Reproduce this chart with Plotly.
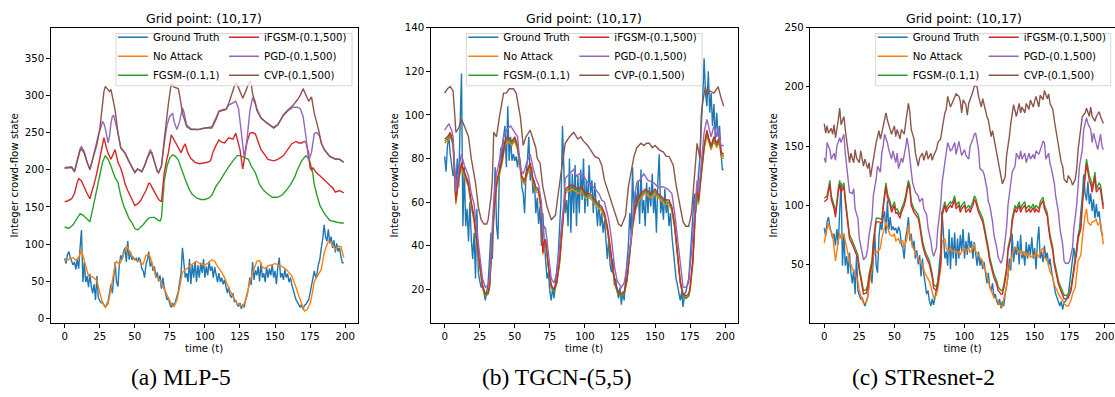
import plotly.graph_objects as go

# ---------------- data ----------------
T_ALL = list(range(200))
GROUND_TRUTH = [81, 74, 86, 90, 82, 76, 72, 76, 66, 80, 67, 95, 119, 49, 76, 49, 57, 42, 60, 43,
                34, 46, 25, 57, 28, 24, 21, 22, 18, 15, 19, 23, 34, 46, 34, 58, 76, 49, 43, 73,
                85, 79, 90, 95, 76, 104, 79, 90, 79, 82, 79, 81, 76, 82, 78, 67, 64, 55, 73, 79,
                90, 70, 76, 64, 70, 55, 62, 50, 58, 40, 55, 42, 35, 25, 28, 19, 15, 21, 16, 22,
                28, 36, 49, 61, 95, 76, 55, 61, 49, 80, 46, 73, 55, 77, 49, 72, 55, 75, 61, 80,
                55, 70, 58, 77, 64, 70, 55, 69, 58, 49, 61, 49, 55, 46, 52, 42, 34, 43, 31, 28,
                34, 22, 25, 19, 16, 21, 13, 19, 15, 25, 31, 40, 55, 45, 76, 52, 65, 58, 70, 50,
                75, 55, 61, 49, 69, 55, 67, 58, 73, 55, 64, 46, 69, 82, 55, 61, 52, 66, 55, 60,
                49, 55, 45, 37, 31, 25, 22, 18, 15, 19, 12, 18, 19, 22, 25, 34, 46, 55, 64, 55,
                61, 73, 80, 95, 107, 126, 110, 104, 120, 101, 110, 95, 105, 89, 101, 90, 95, 83, 75, 75]

# Panel (a) MLP-5
P1_NO_ATTACK = [(0,77),(3,79),(6,82),(8,78),(10,82),(12,92),(14,78),(16,62),(17,57),(20,56),(23,51),(25,35),(27,21),(29,15),(31,20),(32,29),(34,52),(36,72),(37,77),(39,73),(41,80),(42,86),(44,97),(45,96),(47,86),(49,82),(51,78),(53,77),(56,73),(58,85),(60,86),(61,83),(63,68),(65,57),(68,51),(70,43),(72,35),(75,24),(77,16),(78,17),(80,24),(82,42),(83,55),(84,62),(87,67),(90,72),(94,77),(97,73),(100,72),(102,74),(105,79),(107,77),(109,70),(111,65),(114,55),(116,45),(118,37),(121,26),(123,20),(125,18),(127,16),(128,20),(130,30),(132,50),(134,62),(137,77),(139,78),(141,69),(143,67),(145,71),(148,72),(150,74),(152,72),(155,70),(158,66),(160,62),(162,57),(164,47),(166,35),(168,24),(170,14),(171,10),(173,12),(175,20),(176,28),(178,50),(181,60),(183,66),(185,88),(187,98),(188,104),(190,102),(193,93),(195,97),(197,97),(199,82)]
P1_FGSM = [(0,123),(3,121),(6,126),(9,136),(11,141),(13,139),(15,135),(18,130),(20,147),(22,165),(24,185),(25,196),(27,210),(29,219),(31,214),(33,205),(35,193),(36,189),(38,183),(40,165),(42,152),(44,142),(46,134),(48,129),(50,121),(52,119),(54,122),(56,126),(58,131),(60,135),(62,136),(64,136),(66,133),(68,131),(69,135),(70,155),(71,185),(73,205),(75,216),(77,220),(79,218),(81,213),(83,202),(85,192),(87,182),(89,173),(91,167),(94,162),(97,160),(100,160),(103,162),(105,166),(108,178),(111,186),(114,196),(117,204),(120,212),(123,219),(125,219),(128,216),(131,214),(133,205),(136,196),(139,180),(142,172),(145,167),(148,163),(152,163),(155,166),(158,172),(161,180),(164,190),(166,200),(169,212),(172,219),(174,214),(175,210),(177,194),(178,180),(180,165),(182,152),(184,145),(186,139),(189,132),(192,130),(195,129),(199,128)]
P1_IFGSM = [(0,157),(2,158),(5,161),(7,168),(9,183),(10,188),(12,185),(14,176),(16,168),(18,161),(20,174),(22,188),(24,205),(26,225),(28,243),(30,228),(31,222),(33,214),(35,222),(36,227),(38,210),(40,202),(42,190),(43,181),(45,172),(47,164),(50,152),(52,154),(54,158),(56,165),(58,172),(60,182),(61,181),(63,174),(65,166),(67,160),(69,157),(71,196),(73,215),(74,223),(76,247),(78,240),(80,232),(82,226),(83,223),(85,232),(86,234),(88,222),(90,215),(93,210),(96,208),(99,209),(102,210),(104,212),(106,225),(108,233),(110,240),(112,237),(114,236),(117,243),(120,241),(122,249),(124,236),(125,227),(127,201),(128,212),(130,237),(132,249),(134,250),(136,248),(138,236),(140,227),(142,222),(145,214),(149,212),(152,214),(156,219),(159,227),(162,235),(165,238),(167,236),(169,236),(171,238),(172,237),(174,222),(175,203),(176,199),(177,203),(179,197),(182,192),(184,189),(186,185),(189,179),(191,176),(193,170),(196,172),(199,169)]
P1_PGD = [(0,203),(3,203),(5,204),(7,198),(9,215),(11,228),(12,231),(14,224),(16,210),(18,201),(20,215),(22,232),(24,246),(26,258),(27,265),(28,262),(29,255),(31,236),(32,245),(33,262),(34,272),(35,273),(36,265),(37,258),(38,250),(40,229),(43,222),(45,214),(48,203),(50,197),(52,201),(55,198),(57,206),(59,218),(61,227),(62,224),(64,210),(66,198),(67,196),(69,205),(71,235),(73,260),(75,272),(77,276),(78,265),(80,254),(82,265),(84,283),(85,278),(87,260),(90,255),(95,254),(100,256),(105,258),(108,270),(110,279),(113,281),(115,281),(117,287),(119,289),(121,290),(122,292),(124,282),(126,250),(128,217),(130,240),(132,278),(134,297),(136,286),(138,278),(140,270),(144,263),(149,257),(152,261),(156,273),(159,279),(163,284),(166,284),(168,282),(170,272),(172,245),(174,212),(176,223),(178,249),(180,250),(182,244),(183,236),(185,228),(189,218),(193,215),(196,214),(199,210)]
P1_CVP = [(0,202),(3,202),(5,203),(7,197),(9,212),(11,226),(12,228),(14,222),(16,210),(18,200),(20,214),(23,234),(25,254),(27,290),(28,305),(29,312),(31,307),(32,305),(33,308),(35,292),(36,280),(38,249),(40,230),(43,223),(45,214),(48,203),(50,196),(52,201),(55,197),(57,205),(59,216),(61,223),(62,223),(64,210),(66,198),(67,196),(69,205),(71,240),(73,275),(74,289),(76,316),(78,311),(81,309),(82,300),(84,276),(87,258),(90,254),(95,254),(100,256),(105,256),(108,268),(110,278),(113,280),(115,281),(117,289),(119,302),(121,312),(122,318),(124,310),(125,305),(127,296),(129,305),(130,311),(132,320),(133,316),(134,302),(136,290),(137,280),(140,269),(144,263),(149,256),(152,260),(156,274),(159,280),(163,287),(166,294),(168,300),(170,309),(172,300),(174,292),(176,298),(178,276),(181,254),(183,236),(185,227),(189,218),(193,214),(196,214),(199,210)]

# Panel (b) TGCN-(5,5)
P2_NO_ATTACK = [(0,87),(2,88),(4,90),(6,86),(7,73),(8,59),(10,70),(12,76),(14,72),(17,67),(19,58),(21,51),(23,40),(25,30),(27,21),(29,17),(31,18),(32,21),(33,31),(35,53),(37,67),(38,70),(41,78),(43,86),(45,88),(48,86),(50,88),(52,84),(54,74),(55,70),(57,68),(59,73),(61,76),(63,69),(65,65),(67,64),(69,55),(70,36),(71,40),(72,41),(74,30),(76,21),(78,19),(80,23),(82,32),(84,48),(85,56),(86,64),(88,65),(91,66),(93,65),(95,64),(98,65),(100,62),(103,62),(105,61),(107,59),(110,57),(112,56),(114,53),(116,47),(118,38),(120,28),(122,21),(124,18),(126,17),(128,18),(130,24),(132,35),(134,48),(136,56),(138,60),(140,62),(143,64),(145,63),(147,62),(150,64),(152,62),(154,61),(157,59),(160,59),(162,56),(164,48),(165,42),(166,35),(168,23),(170,17),(172,16),(174,17),(175,20),(177,32),(178,47),(179,58),(180,65),(181,59),(183,72),(185,84),(187,91),(188,88),(190,84),(192,88),(194,85),(196,88),(197,81),(199,80)]
P2_FGSM = [(0,88),(2,89),(4,91),(6,87),(7,74),(8,60),(10,71),(12,77),(14,73),(17,68),(19,59),(21,52),(23,41),(25,30),(27,21),(29,17),(31,18),(32,21),(33,32),(35,54),(37,68),(38,71),(41,79),(43,87),(45,89),(48,87),(50,89),(52,85),(54,75),(55,71),(57,69),(59,74),(61,77),(63,70),(65,66),(67,65),(69,56),(70,37),(71,41),(72,42),(74,30),(76,21),(78,19),(80,23),(82,33),(84,49),(85,57),(86,65),(88,66),(91,67),(93,66),(95,65),(98,66),(100,63),(103,63),(105,62),(107,60),(110,58),(112,57),(114,54),(116,48),(118,39),(120,28),(122,21),(124,18),(126,17),(128,18),(130,24),(132,36),(134,49),(136,57),(138,61),(140,63),(143,65),(145,64),(147,63),(150,65),(152,63),(154,62),(157,60),(160,60),(162,57),(164,49),(165,43),(166,36),(168,23),(170,17),(172,16),(174,17),(175,20),(177,33),(178,48),(179,59),(180,66),(181,60),(183,73),(185,85),(187,92),(188,89),(190,85),(192,89),(194,86),(196,89),(197,82),(199,81)]
P2_IFGSM = [(0,89),(2,90),(4,92),(6,88),(7,75),(8,61),(10,72),(12,78),(14,74),(17,69),(19,60),(21,53),(23,42),(25,31),(27,22),(29,18),(31,19),(32,22),(33,33),(35,55),(37,69),(38,72),(41,80),(43,88),(45,90),(48,88),(50,90),(52,86),(54,76),(55,72),(57,70),(59,75),(61,78),(63,71),(65,67),(67,66),(69,57),(70,37),(71,42),(72,43),(74,31),(76,22),(78,20),(80,24),(82,34),(84,50),(85,58),(86,66),(88,67),(91,68),(93,67),(95,66),(98,67),(100,64),(103,64),(105,63),(107,61),(110,59),(112,58),(114,55),(116,49),(118,40),(120,29),(122,22),(124,19),(126,18),(128,19),(130,25),(132,37),(134,50),(136,58),(138,62),(140,64),(143,66),(145,65),(147,64),(150,66),(152,64),(154,63),(157,61),(160,61),(162,58),(164,50),(165,44),(166,37),(168,24),(170,18),(172,17),(174,18),(175,21),(177,34),(178,49),(179,60),(180,67),(181,61),(183,74),(185,86),(187,93),(188,90),(190,86),(192,90),(194,87),(196,90),(197,83),(199,82)]
P2_PGD = [(0,93),(2,95),(3,96),(5,93),(6,90),(7,78),(8,65),(10,75),(12,82),(14,77),(17,72),(19,64),(21,59),(23,47),(25,35),(27,25),(29,21),(31,22),(32,25),(33,36),(35,61),(37,73),(39,79),(42,90),(44,93),(47,95),(49,93),(52,90),(54,75),(56,73),(59,79),(61,82),(63,76),(65,71),(67,68),(69,60),(70,46),(71,49),(72,48),(74,36),(76,25),(78,23),(80,28),(81,34),(83,48),(85,60),(86,71),(89,73),(92,75),(94,72),(96,73),(99,72),(102,69),(106,67),(110,64),(112,61),(114,60),(117,52),(119,43),(121,31),(123,24),(126,21),(128,23),(130,30),(132,40),(133,43),(135,61),(137,69),(139,70),(142,73),(145,70),(149,69),(152,67),(156,67),(159,66),(162,64),(164,55),(166,43),(168,30),(170,21),(172,21),(174,23),(176,37),(178,55),(180,70),(181,64),(183,80),(185,92),(187,98),(188,95),(190,90),(192,95),(194,90),(195,94),(197,86),(199,86)]
P2_CVP = [(0,110),(2,112),(4,113),(6,111),(7,102),(8,92),(10,94),(12,98),(14,95),(17,90),(19,80),(21,72),(22,69),(24,58),(26,52),(28,50),(30,50),(31,52),(33,62),(34,70),(35,92),(37,90),(39,99),(42,110),(44,110),(46,112),(49,112),(51,110),(53,103),(54,99),(56,86),(58,90),(61,93),(63,89),(65,85),(66,80),(68,78),(70,67),(73,58),(76,52),(79,54),(81,64),(83,75),(84,78),(86,87),(89,90),(92,92),(95,89),(97,90),(99,88),(102,86),(105,83),(107,81),(110,80),(112,77),(114,70),(117,64),(119,60),(122,54),(124,50),(126,49),(129,54),(131,67),(133,75),(135,81),(137,85),(140,87),(142,86),(144,87),(146,87),(148,85),(150,86),(153,84),(156,83),(158,81),(160,81),(163,77),(165,68),(168,58),(170,51),(172,49),(174,49),(176,55),(178,70),(179,77),(180,87),(182,80),(183,100),(184,106),(186,113),(187,109),(189,111),(192,110),(195,113),(197,108),(199,104)]

# Panel (c) STResnet-2
P3_NO_ATTACK = [(0,68),(1,75),(3,85),(4,80),(6,75),(7,64),(8,53),(10,70),(11,76),(12,72),(14,76),(15,70),(17,58),(18,53),(20,47),(21,45),(22,42),(24,36),(25,28),(27,20),(28,17),(30,18),(31,22),(32,33),(34,47),(35,58),(37,61),(38,60),(40,64),(41,72),(43,80),(44,86),(46,78),(47,75),(49,74),(50,76),(51,70),(53,72),(54,68),(56,70),(57,64),(59,72),(60,83),(61,75),(63,65),(65,60),(67,55),(68,52),(70,50),(72,42),(75,36),(77,28),(78,22),(80,24),(81,30),(83,47),(84,70),(86,72),(87,64),(88,61),(90,64),(91,61),(93,62),(94,60),(96,61),(97,58),(98,61),(100,64),(101,61),(103,64),(104,60),(106,64),(107,67),(108,61),(110,58),(111,56),(113,53),(114,47),(116,42),(117,36),(118,31),(120,25),(121,22),(123,21),(124,18),(126,15),(127,14),(128,21),(130,31),(131,42),(133,53),(134,58),(136,64),(137,64),(139,60),(140,62),(141,58),(143,61),(144,57),(146,60),(147,56),(149,58),(150,56),(151,60),(153,56),(154,61),(156,64),(157,56),(159,53),(160,47),(161,44),(163,39),(164,33),(166,28),(167,25),(169,21),(170,20),(171,17),(173,15),(174,15),(176,20),(177,25),(179,31),(180,42),(181,53),(183,58),(184,72),(186,92),(187,97),(188,86),(190,83),(191,86),(192,86),(194,88),(195,83),(197,86),(198,75),(199,67)]
P3_FGSM = [(0,106),(2,108),(4,121),(5,108),(7,100),(8,93),(10,114),(11,121),(12,114),(14,119),(15,106),(17,83),(18,75),(20,70),(21,67),(22,64),(24,58),(25,47),(27,33),(28,28),(30,29),(31,33),(32,42),(34,53),(35,70),(37,89),(39,89),(41,88),(42,100),(44,119),(45,110),(47,103),(48,97),(50,103),(51,96),(52,97),(54,92),(55,97),(57,103),(58,108),(60,121),(61,117),(62,103),(64,97),(67,92),(68,86),(70,70),(72,61),(75,53),(77,42),(78,33),(80,31),(81,36),(83,53),(84,94),(86,103),(87,97),(88,100),(90,103),(91,101),(93,108),(94,100),(96,103),(97,97),(98,100),(100,103),(101,97),(103,100),(104,97),(106,103),(107,108),(108,106),(110,97),(111,94),(113,89),(114,83),(116,72),(117,64),(118,56),(120,47),(121,42),(123,36),(124,31),(126,28),(127,28),(128,33),(130,47),(131,64),(133,75),(134,89),(136,100),(137,97),(139,103),(140,97),(141,100),(143,103),(144,97),(146,100),(147,97),(149,101),(150,97),(151,100),(153,97),(154,103),(156,107),(157,100),(159,94),(160,83),(161,75),(163,64),(164,53),(166,42),(167,36),(169,30),(170,26),(171,24),(173,24),(174,25),(176,31),(177,39),(179,53),(180,64),(181,75),(183,83),(184,103),(186,128),(187,139),(189,125),(190,122),(191,114),(193,128),(194,114),(196,119),(197,117),(199,100)]
P3_IFGSM = [(0,103),(2,105),(4,118),(5,105),(7,97),(8,90),(10,111),(11,118),(12,111),(14,116),(15,103),(17,80),(18,72),(20,67),(21,64),(22,61),(24,55),(25,45),(27,30),(28,25),(30,26),(31,30),(32,39),(34,50),(35,67),(37,86),(39,86),(41,85),(42,97),(44,116),(45,107),(47,100),(48,94),(50,100),(51,93),(52,94),(54,89),(55,94),(57,100),(58,105),(60,118),(61,114),(62,100),(64,94),(67,89),(68,83),(70,67),(72,58),(75,50),(77,39),(78,30),(80,28),(81,33),(83,50),(84,91),(86,100),(87,94),(88,97),(90,100),(91,98),(93,105),(94,97),(96,100),(97,94),(98,97),(100,100),(101,94),(103,97),(104,94),(106,100),(107,105),(108,103),(110,94),(111,91),(113,86),(114,80),(116,69),(117,61),(118,53),(120,44),(121,39),(123,33),(124,28),(126,25),(127,25),(128,30),(130,44),(131,61),(133,72),(134,86),(136,97),(137,94),(139,100),(140,94),(141,97),(143,100),(144,94),(146,97),(147,94),(149,98),(150,94),(151,97),(153,94),(154,100),(156,104),(157,97),(159,91),(160,80),(161,72),(163,61),(164,50),(166,39),(167,33),(169,27),(170,23),(171,21),(173,21),(174,22),(176,28),(177,36),(179,50),(180,61),(181,72),(183,80),(184,100),(186,125),(187,135),(189,121),(190,118),(191,111),(193,124),(194,111),(196,115),(197,113),(199,97)]
P3_PGD = [(0,140),(1,136),(2,153),(4,147),(5,139),(7,144),(8,138),(9,150),(11,157),(12,153),(14,160),(15,144),(17,122),(18,111),(20,110),(21,114),(22,97),(24,89),(25,72),(27,58),(28,54),(30,57),(31,64),(32,75),(34,89),(35,108),(37,122),(38,133),(40,128),(41,144),(42,150),(43,160),(45,153),(46,147),(48,139),(49,146),(51,136),(52,144),(53,131),(55,140),(56,136),(58,149),(59,157),(60,150),(62,131),(63,119),(65,111),(67,108),(68,103),(70,106),(71,97),(73,92),(74,81),(76,70),(77,61),(78,57),(80,64),(81,81),(83,100),(84,119),(86,136),(87,147),(88,153),(90,146),(91,147),(93,153),(94,143),(96,154),(97,149),(98,142),(100,147),(101,142),(103,139),(104,150),(106,156),(107,160),(108,161),(110,147),(111,131),(113,129),(114,126),(116,114),(117,103),(118,100),(120,86),(121,75),(123,64),(124,56),(126,51),(127,54),(128,61),(130,81),(131,100),(133,117),(134,128),(136,133),(137,144),(139,139),(140,146),(141,139),(143,144),(144,136),(146,144),(147,139),(149,143),(150,139),(151,146),(153,143),(154,147),(156,154),(157,153),(158,139),(160,144),(161,135),(162,131),(164,119),(165,108),(167,94),(168,81),(170,67),(171,53),(172,51),(174,51),(175,53),(177,64),(178,81),(180,100),(181,114),(182,133),(184,147),(185,164),(187,174),(188,169),(190,164),(191,153),(192,161),(194,153),(195,147),(197,160),(198,150),(199,147)]
P3_CVP = [(0,169),(1,161),(2,167),(3,161),(5,165),(6,160),(7,168),(8,157),(10,172),(11,182),(12,168),(14,175),(15,164),(17,142),(18,136),(19,144),(21,136),(22,147),(23,140),(25,136),(26,146),(28,133),(29,139),(31,131),(32,136),(33,124),(34,131),(36,144),(37,153),(39,163),(40,156),(41,161),(43,174),(44,178),(45,172),(47,164),(48,160),(50,167),(51,158),(52,164),(54,156),(55,164),(57,160),(58,169),(60,186),(61,179),(62,164),(64,156),(65,144),(67,133),(68,140),(70,144),(71,138),(73,146),(74,139),(76,144),(77,138),(78,142),(80,147),(81,153),(83,156),(84,164),(86,178),(87,181),(88,192),(90,183),(91,186),(93,192),(94,194),(96,192),(97,188),(98,178),(99,189),(101,185),(102,176),(103,186),(105,192),(106,196),(107,201),(109,200),(110,192),(112,183),(113,190),(115,178),(116,175),(117,172),(119,158),(120,163),(122,150),(123,144),(124,136),(126,122),(127,118),(129,124),(130,142),(132,158),(133,169),(135,185),(136,180),(137,175),(139,186),(140,178),(141,183),(143,178),(144,186),(146,181),(147,189),(149,183),(150,188),(151,192),(153,183),(154,193),(156,189),(157,197),(159,190),(160,194),(161,186),(163,181),(164,172),(166,158),(167,153),(169,136),(170,133),(171,122),(173,119),(174,125),(176,121),(177,117),(179,122),(180,131),(181,147),(183,164),(184,175),(186,178),(187,182),(189,175),(190,183),(191,175),(193,171),(194,175),(196,179),(197,175),(199,169)]

SERIES_NAMES = ["Ground Truth", "No Attack", "FGSM-(0.1,1)", "iFGSM-(0.1,500)", "PGD-(0.1,500)", "CVP-(0.1,500)"]
COLORS = ["#1f77b4", "#ff7f0e", "#2ca02c", "#d62728", "#9467bd", "#8c564b"]
PANEL_TITLES = ["Grid point: (10,17)"] * 3
CAPTIONS = ["(a) MLP-5", "(b) TGCN-(5,5)", "(c) STResnet-2"]
X_TICKS = [0, 25, 50, 75, 100, 125, 150, 175, 200]
Y_TICKS = [[0, 50, 100, 150, 200, 250, 300, 350],
           [20, 40, 60, 80, 100, 120, 140],
           [50, 100, 150, 200, 250]]
Y_RANGES = [[-6.2, 391], [4.6, 140], [0.5, 250]]

PANELS = [
    [P1_NO_ATTACK, P1_FGSM, P1_IFGSM, P1_PGD, P1_CVP],
    [P2_NO_ATTACK, P2_FGSM, P2_IFGSM, P2_PGD, P2_CVP],
    [P3_NO_ATTACK, P3_FGSM, P3_IFGSM, P3_PGD, P3_CVP],
]

# ---------------- layout geometry (pixels) ----------------
W, H = 1115, 397
PLOT_TOP, PLOT_BOTTOM = 23, 323
LEFTS = [50.7, 430.7, 810.3]
PX_PER_UNIT = 1.40246
XMIN = -9.95
LEGEND_BOX = [(116, 352), (466.3, 702), (875.7, 1110.7)]
BOX_TOP, BOX_BOTTOM = 29, 82
LEGEND_TOP = 18


def fx(p):
    return p / W


def fy(p):
    return 1 - p / H


FONT = "DejaVu Sans"
fig = go.Figure()

for i in range(3):
    ax = "" if i == 0 else str(i + 1)
    series = [list(zip(T_ALL, GROUND_TRUTH))] + PANELS[i]
    for k, pts in enumerate(series):
        xs = [p[0] for p in pts]
        ys = [p[1] for p in pts]
        leg_id = 2 * i + (0 if k < 3 else 1) + 1
        leg = "legend" if leg_id == 1 else f"legend{leg_id}"
        fig.add_trace(go.Scatter(
            x=xs, y=ys, mode="lines", name=SERIES_NAMES[k],
            line=dict(color=COLORS[k], width=1.4),
            xaxis="x" + ax, yaxis="y" + ax, legend=leg, showlegend=True,
        ))

layout = dict(
    width=W, height=H, autosize=False,
    margin=dict(l=0, r=0, t=0, b=0, pad=0),
    paper_bgcolor="white", plot_bgcolor="white",
    font=dict(family=FONT, color="black", size=10.2),
    showlegend=True,
)

shapes = []
annotations = []
for i in range(3):
    ax = "" if i == 0 else str(i + 1)
    left = LEFTS[i]
    right = min(left + 218.9 * PX_PER_UNIT, W)
    xmax = XMIN + (right - left) / PX_PER_UNIT
    layout["xaxis" + ax] = dict(
        domain=[fx(left), fx(right)], range=[XMIN, xmax], anchor="y" + ax,
        showline=True, linecolor="black", linewidth=0.8, mirror=True,
        ticks="outside", ticklen=3.5, tickwidth=0.8, tickcolor="black",
        tickvals=X_TICKS, showgrid=False, zeroline=False,
        tickfont=dict(family=FONT, size=10.2, color="black"),
        title=dict(text="time (t)", font=dict(family=FONT, size=10.2, color="black"), standoff=4),
    )
    layout["yaxis" + ax] = dict(
        domain=[fy(PLOT_BOTTOM), fy(PLOT_TOP)], range=Y_RANGES[i], anchor="x" + ax,
        showline=True, linecolor="black", linewidth=0.8, mirror=(i < 2),
        ticks="outside", ticklen=3.5, tickwidth=0.8, tickcolor="black",
        tickvals=Y_TICKS[i], showgrid=False, zeroline=False,
        tickfont=dict(family=FONT, size=10.2, color="black"),
        title=dict(text="Integer crowd-flow state", font=dict(family=FONT, size=10.2, color="black"), standoff=4),
    )
    annotations.append(dict(
        text=PANEL_TITLES[i], xref="paper", yref="paper",
        x=fx(left + 307 / 2), y=fy(14), xanchor="center", yanchor="middle",
        showarrow=False, font=dict(family=FONT, size=12.5, color="black"),
    ))
    cap_centers = [181, 557, 923]
    annotations.append(dict(
        text=CAPTIONS[i], xref="paper", yref="paper",
        x=fx(cap_centers[i]), y=fy(378), xanchor="center", yanchor="middle",
        showarrow=False, font=dict(family="Liberation Serif", size=23.5, color="black"),
    ))
    bl, br = LEGEND_BOX[i]
    shapes.append(dict(
        type="rect", xref="paper", yref="paper", layer="above",
        x0=fx(bl), x1=fx(br), y0=fy(BOX_BOTTOM), y1=fy(BOX_TOP),
        fillcolor="rgba(255,255,255,0.8)", line=dict(color="#cccccc", width=0.8),
    ))
    for c in range(2):
        leg_id = 2 * i + c + 1
        key = "legend" if leg_id == 1 else f"legend{leg_id}"
        lx = bl - 3 if c == 0 else bl + 108
        layout[key] = dict(
            x=fx(lx), y=fy(LEGEND_TOP), xanchor="left", yanchor="top",
            xref="paper", yref="paper", orientation="v",
            bgcolor="rgba(0,0,0,0)", borderwidth=0, itemwidth=30,
            font=dict(family=FONT, size=10.2, color="black"), tracegroupgap=0,
        )

layout["shapes"] = shapes
layout["annotations"] = annotations
fig.update_layout(**layout)
fig.write_html("out.html", config={"displayModeBar": False},
               post_script="document.body.style.margin='0px';")
